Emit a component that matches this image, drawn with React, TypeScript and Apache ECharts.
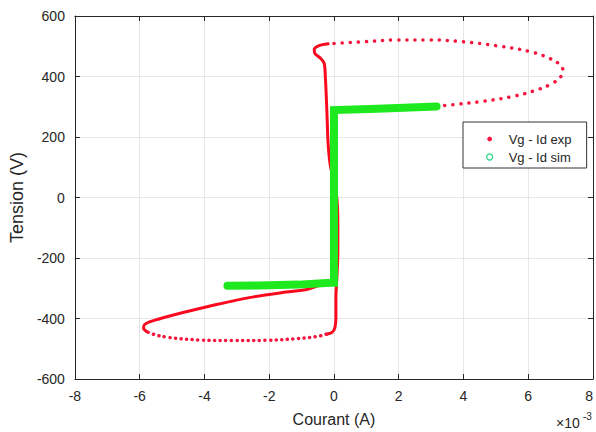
import React, { useEffect, useRef } from 'react';
import * as echarts from 'echarts';

// Axis ranges (current in units of 1e-3 A, voltage in V)
const xMin = -8;
const xMax = 8;
const xStep = 2;
const yMin = -600;
const yMax = 600;
const yStep = 200;

// Experimental curve, split where the trace is dense (solid) or sparse (dotted)
const expSolidUpper: [number, number][] = [
  [-0.18, 508], [-0.46, 502], [-0.61, 489], [-0.58, 475], [-0.4, 459], [-0.3, 443],
  [-0.27, 407], [-0.24, 341], [-0.21, 259], [-0.18, 177], [-0.12, 111], [0.0, 52],
  [0.09, -3], [0.12, -85], [0.12, -184], [0.09, -266], [0.06, -331], [0.06, -397],
  [0.03, -430], [-0.06, -446], [-0.24, -452],
];
const expDottedLower: [number, number][] = [
  [-0.24, -452], [-0.49, -459], [-1.1, -466], [-2.1, -472], [-3.14, -473],
  [-4.15, -471], [-5.15, -462], [-5.58, -452], [-5.79, -443],
];
const expSolidLower: [number, number][] = [
  [-5.79, -443], [-5.88, -433], [-5.85, -420], [-5.58, -407], [-4.66, -380],
  [-3.63, -354], [-2.62, -331], [-1.62, -315], [-0.88, -305], [-0.49, -292],
  [-0.18, -282], [0.0, -275], [0.03, -3], [0.03, 285], [1.34, 292], [3.17, 302],
];
const expDottedUpper: [number, number][] = [
  [3.17, 302], [3.78, 308], [4.6, 318], [5.52, 334], [6.22, 354], [6.74, 377],
  [7.01, 400], [7.07, 420], [6.98, 439], [6.68, 459], [6.07, 482], [5.0, 502],
  [3.99, 515], [2.96, 521], [1.95, 521], [0.95, 515], [0.27, 511], [-0.18, 508],
];

// Simulated curve
const simCurve: [number, number][] = [
  [-3.29, -292], [-2.32, -291], [-1.1, -288], [-0.09, -282], [0.0, -282],
  [0.0, 289], [1.34, 293], [3.17, 301],
];

const FONT = '"Liberation Sans", Arial, Helvetica, sans-serif';
const AXIS = '#262626';
const RED = '#fa0a1e';
const RED_DOT = '#f5153f';
const GREEN = '#1ee81e';
const EXP = 'Vg - Id exp';
const SIM = 'Vg - Id sim';

export default function App() {
  const ref = useRef<HTMLDivElement>(null);
  useEffect(() => {
    if (!ref.current) return;
    const chart = echarts.init(ref.current, undefined, { renderer: 'svg' });
    const axisCommon = {
      axisLine: { show: true, onZero: false, lineStyle: { color: AXIS, width: 1 } },
      axisTick: { show: true, inside: true, length: 5, lineStyle: { color: AXIS } },
    };
    const redLine = (data: [number, number][], dotted: number | null, smooth: number) => ({
      name: EXP,
      type: 'line',
      data,
      showSymbol: false,
      symbol: 'none',
      smooth,
      itemStyle: { color: RED },
      lineStyle: dotted
        ? { color: RED_DOT, width: 3.5, type: [0.1, dotted], cap: 'round' }
        : { color: RED, width: 3, cap: 'round', join: 'round' },
      z: 2,
    });
    chart.setOption({
      animation: false,
      backgroundColor: '#ffffff',
      textStyle: { fontFamily: FONT },
      grid: { left: 73, top: 16, width: 523, height: 366, containLabel: false },
      xAxis: [
        {
          type: 'value', min: xMin, max: xMax, interval: xStep, position: 'bottom',
          name: 'Courant (A)', nameLocation: 'middle', nameGap: 32,
          nameTextStyle: { fontSize: 16, color: AXIS, fontFamily: FONT },
          ...axisCommon,
          axisLabel: { fontSize: 14, color: AXIS, margin: 10, fontFamily: FONT, alignMaxLabel: 'right' },
          splitLine: { show: true, lineStyle: { color: '#e6e6e6', width: 1 } },
        },
        {
          type: 'value', min: xMin, max: xMax, interval: xStep, position: 'top',
          ...axisCommon,
          axisLabel: { show: false },
          splitLine: { show: false },
        },
      ],
      yAxis: [
        {
          type: 'value', min: yMin, max: yMax, interval: yStep, position: 'left',
          name: 'Tension (V)', nameLocation: 'middle', nameGap: 43,
          nameTextStyle: { fontSize: 18, color: AXIS, fontFamily: FONT },
          ...axisCommon,
          axisLabel: { fontSize: 14, color: AXIS, margin: 10, fontFamily: FONT },
          splitLine: { show: true, lineStyle: { color: '#e6e6e6', width: 1 } },
        },
        {
          type: 'value', min: yMin, max: yMax, interval: yStep, position: 'right',
          ...axisCommon,
          axisLabel: { show: false },
          splitLine: { show: false },
        },
      ],
      legend: {
        left: 463,
        top: 122,
        orient: 'vertical',
        padding: [9, 8, 3, 23],
        itemGap: 2,
        itemWidth: 6,
        itemHeight: 6,
        backgroundColor: '#ffffff',
        borderColor: '#333333',
        borderWidth: 1,
        textStyle: { fontSize: 13, color: AXIS, fontFamily: FONT, lineHeight: 16, padding: [0, 0, 0, 11], width: 70 },
        data: [
          { name: EXP, icon: 'circle', itemStyle: { color: RED_DOT, borderColor: '#ffffff', borderWidth: 1.2 } },
          { name: SIM, icon: 'circle', itemStyle: { color: '#ffffff', borderColor: '#33e08a', borderWidth: 1.3 } },
        ],
      },
      graphic: [
        { type: 'text', x: 556, y: 416, style: { text: '×10', fontSize: 14, fill: AXIS, fontFamily: FONT } },
        { type: 'text', x: 583, y: 411, style: { text: '-3', fontSize: 10, fill: AXIS, fontFamily: FONT } },
      ],
      series: [
        redLine(expSolidUpper, null, 0.3),
        redLine(expDottedLower, 5.5, 0.4),
        redLine(expSolidLower, null, 0.15),
        redLine(expDottedUpper, 8, 0.4),
        {
          name: SIM,
          type: 'line',
          data: simCurve,
          showSymbol: false,
          symbol: 'none',
          itemStyle: { color: GREEN },
          lineStyle: { color: GREEN, width: 8, cap: 'round', join: 'miter' },
          z: 3,
        },
      ],
    });
    return () => chart.dispose();
  }, []);
  return <div ref={ref} style={{ position: 'absolute', left: 0, top: 0, width: 596, height: 432 }} />;
}
